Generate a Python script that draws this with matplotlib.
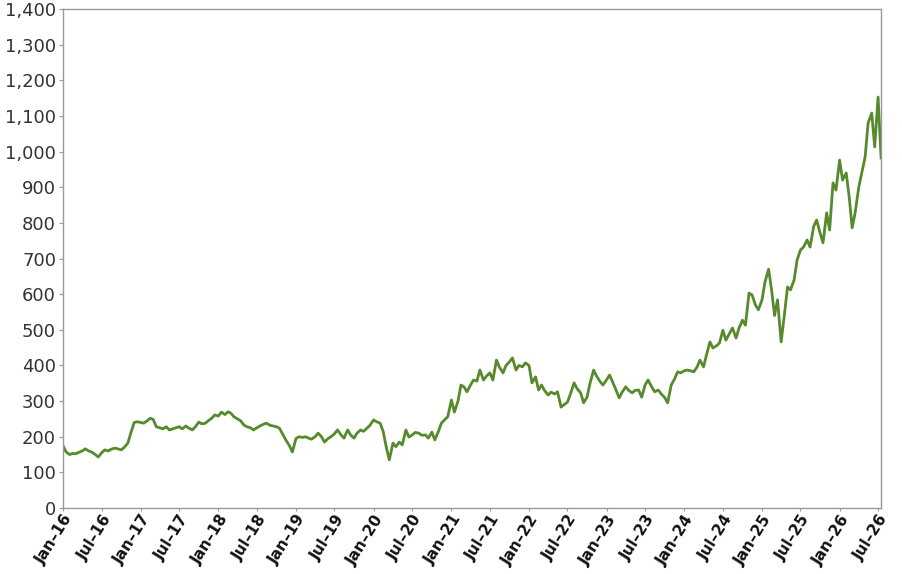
import matplotlib
matplotlib.use("Agg")
import matplotlib.pyplot as plt
import matplotlib.ticker as mticker
import pandas as pd

# semi-monthly readings (1st and 15th of each month), Jan-2016 .. Jul-2026
v2016 = [175, 158, 150, 153, 152, 156, 160, 166, 160, 157, 150, 143,
         155, 163, 160, 165, 168, 166, 163, 170, 182, 210, 240, 242]
v2017 = [240, 238, 245, 252, 248, 228, 225, 222, 228, 219, 222, 225,
         228, 222, 230, 224, 219, 228, 241, 236, 238, 245, 252, 261]
v2018 = [258, 269, 262, 270, 266, 256, 250, 245, 233, 228, 225, 219,
         225, 230, 235, 238, 232, 230, 228, 224, 205, 190, 175, 157]
v2019 = [195, 200, 198, 200, 196, 193, 200, 210, 200, 185, 195, 200,
         208, 219, 205, 196, 219, 205, 196, 210, 219, 215, 224, 232]
v2020 = [247, 242, 238, 215, 170, 135, 182, 172, 185, 177, 219, 199,
         205, 212, 210, 204, 205, 196, 213, 191, 215, 238, 248, 256]
v2021 = [303, 269, 300, 345, 340, 326, 345, 359, 356, 387, 359, 370,
         379, 359, 415, 395, 379, 400, 410, 421, 387, 400, 396, 407]
v2022 = [400, 351, 368, 331, 345, 330, 317, 325, 320, 326, 283, 290,
         297, 320, 351, 335, 323, 295, 311, 350, 387, 370, 355, 345]
v2023 = [360, 373, 350, 330, 309, 325, 340, 330, 323, 330, 331, 311,
         345, 359, 340, 326, 331, 320, 310, 295, 345, 360, 382, 379]
v2024 = [385, 387, 385, 382, 395, 415, 396, 430, 466, 449, 455, 463,
         499, 471, 490, 505, 477, 505, 527, 513, 603, 598, 570, 556]
v2025 = [584, 634, 670, 612, 540, 584, 466, 536, 620, 612, 640, 696,
         724, 732, 752, 732, 790, 808, 772, 744, 828, 780, 912, 892]
v2026 = [976, 920, 940, 873, 786, 828, 900, 940, 985, 1080, 1108, 1013,
         1153, 982]

values = v2016 + v2017 + v2018 + v2019 + v2020 + v2021 + v2022 + v2023 + v2024 + v2025 + v2026
dates = pd.date_range("2016-01-01", periods=len(values), freq="SMS")

tick_dates = pd.date_range("2016-01-01", "2026-07-01", freq="6MS")
tick_labels = [d.strftime("%b") + "\u2013" + d.strftime("%y") for d in tick_dates]

fig = plt.figure(figsize=(9.02, 5.74), dpi=100)
ax = fig.add_axes([0.0698, 0.115, 0.907, 0.8693])

ax.plot(dates, values, color="#568a2c", linewidth=2.0)

ax.set_xlim(dates[0], dates[-1])
ax.set_ylim(0, 1400)
ax.yaxis.set_major_locator(mticker.MultipleLocator(100))
ax.yaxis.set_major_formatter(mticker.FuncFormatter(lambda v, p: f"{int(v):,}"))

ax.set_xticks(tick_dates)
ax.set_xticklabels(tick_labels, rotation=58, ha="right", rotation_mode="anchor",
                   fontsize=11, fontweight="bold", color="#111111")
ax.tick_params(axis="y", labelsize=13, labelcolor="#333333", length=3,
               color="#999999", pad=2)
ax.tick_params(axis="x", length=2, color="#999999", pad=1)

for s in ax.spines.values():
    s.set_color("#999999")
    s.set_linewidth(1.0)

fig.savefig("out.png", dpi=100)
